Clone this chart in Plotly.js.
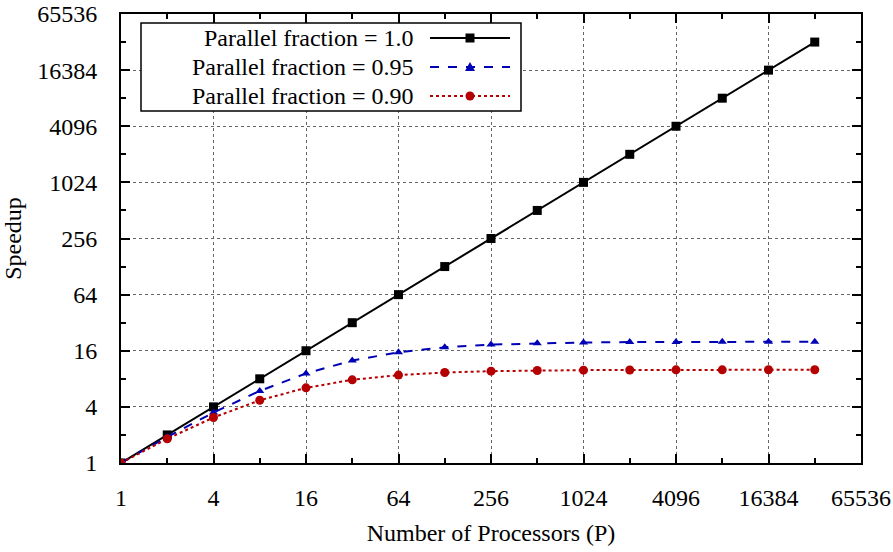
<!DOCTYPE html>
<html>
<head>
<meta charset="utf-8">
<script src="https://cdn.plot.ly/plotly-3.0.1.min.js"></script>
<style>html,body{margin:0;padding:0;background:#fff}#plot{width:893px;height:552px}</style>
</head>
<body>
<div id="plot"></div>
<script>
// ---- data ----
const processors = [1, 2, 4, 8, 16, 32, 64, 128, 256, 512, 1024, 2048, 4096, 8192, 16384, 32768];
const speedup100 = [1, 2, 4, 8, 16, 32, 64, 128, 256, 512, 1024, 2048, 4096, 8192, 16384, 32768];
const speedup95 = [1, 1.905, 3.478, 5.926, 9.143, 12.549, 15.422, 17.415, 18.618, 19.284, 19.636, 19.817, 19.908, 19.954, 19.977, 19.988];
const speedup90 = [1, 1.818, 3.077, 4.706, 6.4, 7.805, 8.767, 9.343, 9.66, 9.828, 9.913, 9.956, 9.978, 9.989, 9.994, 9.997];
const seriesNames = ["Parallel fraction = 1.0", "Parallel fraction = 0.95", "Parallel fraction = 0.90"];
const majorTicks = [1, 4, 16, 64, 256, 1024, 4096, 16384, 65536];
const minorTicks = [2, 8, 32, 128, 512, 2048, 8192, 32768];
const majorTickLabels = ["1", "4", "16", "64", "256", "1024", "4096", "16384", "65536"];
const xTitle = "Number of Processors (P)";
const yTitle = "Speedup";

// ---- styles ----
const colors = ["#000000", "#0000b4", "#b40000"];
const dashes = ["solid", "dash", "dot"];
const symbols = ["square", "triangle-up", "circle"];
const msizes = [9, 8, 9];
const font = "Liberation Serif";
const fs = 24;

const ys = [speedup100, speedup95, speedup90];
const traces = ys.map((y, i) => ({
  x: processors, y: y, name: seriesNames[i], type: "scatter", mode: "lines+markers",
  line: {color: colors[i], dash: dashes[i], width: 2},
  marker: {symbol: symbols[i], size: msizes[i], color: colors[i]},
  showlegend: false
}));

function axis(range, titleText, standoff, lstand) {
  return {
    type: "log", range: range, tickmode: "array", tickvals: majorTicks, ticktext: majorTickLabels,
    ticks: "inside", ticklen: 9, tickwidth: 2, tickcolor: "#000", mirror: "ticks",
    showline: true, linewidth: 2, linecolor: "#000",
    showgrid: true, griddash: "dot", gridcolor: "#666", gridwidth: 1, zeroline: false,
    ticklabelstandoff: lstand,
    minor: {tickmode: "array", tickvals: minorTicks, ticks: "inside", ticklen: 5, tickwidth: 2, tickcolor: "#000", showgrid: false},
    title: {text: titleText, standoff: standoff, font: {family: font, size: fs, color: "#000"}},
    tickfont: {family: font, size: fs, color: "#000"}
  };
}

const L = 121, R = 861, T = 14, B = 463;
const px = v => (v - L) / (R - L);
const py = v => (B - v) / (B - T);

// manual gnuplot-style legend (text left, sample right)
const rowY = [38, 67, 96];
const shapes = [{type: "rect", xref: "paper", yref: "paper", x0: px(141), x1: px(521), y0: py(111), y1: py(23), line: {color: "#000", width: 1.5}, fillcolor: "#fff", layer: "above"}];
const annotations = [];
seriesNames.forEach((n, i) => {
  annotations.push({xref: "paper", yref: "paper", x: px(415), y: py(rowY[i]), xanchor: "right", yanchor: "middle", text: n, showarrow: false, font: {family: font, size: fs, color: "#000"}});
  shapes.push({type: "line", xref: "paper", yref: "paper", x0: px(430), x1: px(510), y0: py(rowY[i]), y1: py(rowY[i]), line: {color: colors[i], dash: dashes[i], width: 2}, layer: "above"});
  const mx = px(470), my = py(rowY[i]);
  if (symbols[i] === "square") {
    shapes.push({type: "rect", xref: "paper", yref: "paper", xsizemode: "pixel", ysizemode: "pixel", xanchor: mx, yanchor: my, x0: -4.5, x1: 4.5, y0: -4.5, y1: 4.5, fillcolor: colors[i], line: {width: 0}, layer: "above"});
  } else if (symbols[i] === "circle") {
    shapes.push({type: "circle", xref: "paper", yref: "paper", xsizemode: "pixel", ysizemode: "pixel", xanchor: mx, yanchor: my, x0: -4.5, x1: 4.5, y0: -4.5, y1: 4.5, fillcolor: colors[i], line: {width: 0}, layer: "above"});
  } else {
    shapes.push({type: "path", xref: "paper", yref: "paper", xsizemode: "pixel", ysizemode: "pixel", xanchor: mx, yanchor: my, path: "M-5,-4 L5,-4 L0,5 Z", fillcolor: colors[i], line: {width: 0}, layer: "above"});
  }
});

const layout = {
  width: 893, height: 552,
  margin: {l: L, r: 893 - R, t: T, b: 552 - B},
  paper_bgcolor: "#fff", plot_bgcolor: "#fff",
  xaxis: axis([0, Math.log10(65536)], xTitle, 14, 12),
  yaxis: axis([0, Math.log10(65536)], yTitle, 17, 17),
  showlegend: false,
  shapes: shapes, annotations: annotations,
  font: {family: font, size: fs, color: "#000"}
};

Plotly.newPlot("plot", traces, layout, {displayModeBar: false, staticPlot: true});
</script>
</body>
</html>
